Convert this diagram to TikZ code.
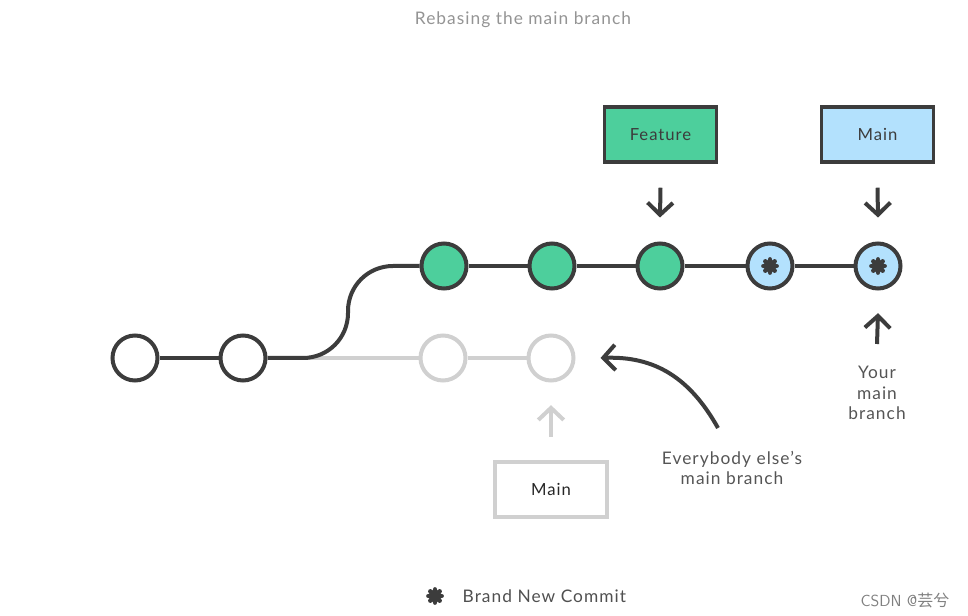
\documentclass[tikz,border=0pt]{standalone}
\usepackage{fontspec}
\setmainfont{Lato}[LetterSpace=6]
\newfontfamily\cjkfont{Noto Sans CJK SC}
\usetikzlibrary{arrows.meta}
\definecolor{ink}{HTML}{3C3C3C}
\definecolor{ghost}{HTML}{D0D0D0}
\definecolor{featgreen}{HTML}{4DCF9C}
\definecolor{mainblue}{HTML}{B3E1FD}
\definecolor{txtgray}{HTML}{555555}
\begin{document}
\begin{tikzpicture}[x=0.75pt,y=-0.75pt,
  commit/.style={circle,draw=ink,line width=3pt,minimum size=33.75pt,inner sep=0pt,fill=white},
  oldcommit/.style={commit,draw=ghost},
  newcommit/.style={commit,fill=mainblue},
  featcommit/.style={commit,fill=featgreen},
  branchbox/.style={draw=ink,line width=2.6pt,minimum width=84pt,minimum height=41.25pt,inner sep=0pt,font=\fontsize{12.5}{14}\selectfont,text=ink},
  edge/.style={ink,line width=3pt},
  ghostedge/.style={ghost,line width=3pt},
  pointer/.style={ink,line width=3pt,-{Straight Barb[length=9pt,width=19pt,line width=3pt]}},
  ghostpointer/.style={pointer,ghost},
  lbl/.style={text=txtgray,font=\fontsize{13}{15.4}\selectfont,align=center},
  star/.style={ink,line width=3.5pt,line cap=round}
]
\useasboundingbox (0,0) rectangle (968,616);
\fill[white] (0,0) rectangle (968,616);

\node[text=black!42,font=\fontsize{13}{15}\selectfont] (title) at (523,20) {Rebasing the main branch};

% commits
\node[commit] (a1) at (135,358) {};
\node[commit] (a2) at (243,358) {};
\node[oldcommit] (g1) at (443,358) {};
\node[oldcommit] (g2) at (551,358) {};
\node[featcommit] (f1) at (444,266) {};
\node[featcommit] (f2) at (552,266) {};
\node[featcommit] (f3) at (660,266) {};
\node[newcommit] (n1) at (770,266) {};
\node[newcommit] (n2) at (878,266) {};

% edges
\coordinate (fork) at (303,358);
\draw[ghostedge] (fork) -- (g1.west);
\draw[ghostedge] (g1.east) -- (g2.west);
\draw[edge] (a1.east) -- (a2.west);
\draw[edge] (a2.east) -- (fork) .. controls (328,358) and (348,338) .. (348,313) -- (348,311) .. controls (348,286) and (368,266) .. (393,266) -- (f1.west);
\draw[edge] (f1.east) -- (f2.west);
\draw[edge] (f2.east) -- (f3.west);
\draw[edge] (f3.east) -- (n1.west);
\draw[edge] (n1.east) -- (n2.west);

% stars
\foreach \c in {n1,n2}{
  \foreach \ang in {0,45,90,135}{
    \draw[star] (\c) ++(\ang:4.9pt) -- ++(\ang+180:9.8pt);
  }
}

% branch boxes
\node[branchbox,fill=featgreen] (feat) at (660.5,134.5) {Feature};
\node[branchbox,fill=mainblue] (mainb) at (877.5,134.5) {Main};
\node[branchbox,draw=ghost,fill=white,text=black!85] (oldmain) at (551,489.5) {Main};

\draw[pointer] ([yshift=-18pt]feat.south) -- ([yshift=18pt]f3.north);
\draw[pointer] ([yshift=-18pt]mainb.south) -- ([yshift=18pt]n2.north);
\coordinate (ya) at (877,344);
\draw[pointer] (ya) -- ([yshift=-17pt]n2.south);
\coordinate (ga) at (551,437);
\draw[ghostpointer] (ga) -- ([yshift=-17pt]g2.south);

% labels
\node[lbl] (your) at (877,393) {Your\\main\\branch};
\node[lbl] (every) at (732,468) {Everybody else's\\main branch};
\coordinate (ea) at (718,428);
\draw[pointer] (ea) .. controls (690,378) and (655,356) .. ([xshift=18.75pt]g2.east);

% legend
\coordinate (ls) at (435,596);
\foreach \ang in {0,45,90,135}{
  \draw[star] (ls) ++(\ang:4.9pt) -- ++(\ang+180:9.8pt);
}
\node[anchor=west,text=ink!90,font=\fontsize{13}{15}\selectfont] (legend) at (458,596) {Brand New Commit};

\node[text=black!50,font=\fontsize{12}{13}\selectfont\sffamily,anchor=east] (wm) at (954,601) {CSDN @{\cjkfont 芸兮}};
\end{tikzpicture}
\end{document}
